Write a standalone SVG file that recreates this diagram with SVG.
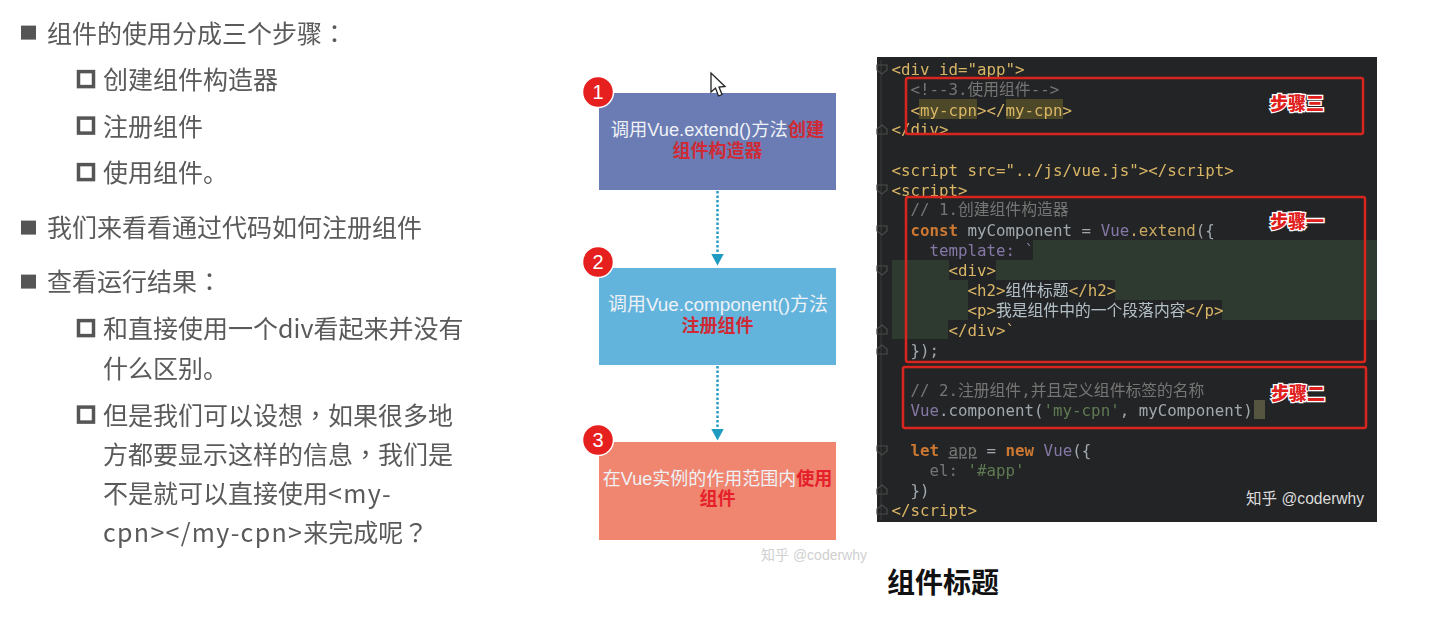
<svg xmlns="http://www.w3.org/2000/svg" width="1439" height="618" viewBox="0 0 1439 618">
<style>
.cn{font-family:"Noto Sans CJK SC","Liberation Sans",sans-serif;font-size:25px;fill:#5a5a5a}
.pn{font-family:"Noto Sans CJK TC",sans-serif}
.ls{letter-spacing:1.3px}
.sq{fill:#555}
.hs{fill:none;stroke:#555;stroke-width:3.5}
.fl{font-family:"Liberation Sans","Noto Sans CJK SC",sans-serif;font-size:18px;fill:#eef1f6;text-anchor:middle}
.r{fill:#cf2a35;font-weight:bold}
.num{font-family:"Liberation Sans",sans-serif;font-size:20px;fill:#fff;text-anchor:middle}
.cir{fill:#e5201f;stroke:#fff;stroke-width:1.5}
.link{stroke:#2a9cc4;stroke-width:2.5;stroke-dasharray:2.5 2;fill:none}
.c{font-family:"DejaVu Sans Mono","Noto Sans CJK SC",monospace;font-size:15.8px;fill:#a0a8ae}
.t{fill:#d9b566}.g{fill:#757575}.k{fill:#cc7832;font-weight:bold}.p{fill:#8577a6}.s{fill:#5f7a52}.w{fill:#b4c0c8}.l{fill:#c9a860}
.box{fill:none;stroke:#d8261f;stroke-width:2.5}
.st{font-family:"Noto Sans CJK SC",sans-serif;font-size:18px;font-weight:900;fill:#e0201c;stroke:#fff;stroke-width:2.6px;paint-order:stroke;text-anchor:middle}
.fold{fill:none;stroke:#4a4a4a;stroke-width:1.2}
.wm{font-family:"Liberation Sans","Noto Sans CJK SC",sans-serif}
</style>
<defs>
<marker id="tri" markerWidth="14" markerHeight="14" refX="6.5" refY="6.5" orient="auto" markerUnits="userSpaceOnUse"><path d="M0 0L12 6.500L0 13Z" fill="#1f9bc2"/></marker>
<filter id="soft" x="0" y="0" width="100%" height="100%" filterUnits="objectBoundingBox"><feGaussianBlur stdDeviation="0.45"/></filter>
</defs>
<rect width="1439" height="618" fill="#fff"/>

<g id="left-text" filter="url(#soft)" transform="translate(0 0.6)">
<rect class="sq" x="21" y="25" width="15" height="14"/>
<text class="cn" x="47" y="42">组件的使用分成三个步骤<tspan class="pn">：</tspan></text>
<rect class="hs" x="78.5" y="71" width="15" height="15"/>
<text class="cn" x="103" y="88">创建组件构造器</text>
<rect class="hs" x="78.5" y="117.500" width="15" height="15"/>
<text class="cn" x="103" y="135">注册组件</text>
<rect class="hs" x="78.5" y="164" width="15" height="15"/>
<text class="cn" x="103" y="181">使用组件。</text>
<rect class="sq" x="21" y="220" width="15" height="14"/>
<text class="cn" x="47" y="236">我们来看看通过代码如何注册组件</text>
<rect class="sq" x="21" y="274" width="15" height="14"/>
<text class="cn" x="47" y="290">查看运行结果<tspan class="pn">：</tspan></text>
<rect class="hs" x="78.5" y="320" width="15" height="15"/>
<text class="cn" x="103" y="337">和直接使用一个div看起来并没有</text>
<text class="cn" x="103" y="377">什么区别。</text>
<rect class="hs" x="78.5" y="406.500" width="15" height="15"/>
<text class="cn" x="103" y="424">但是我们可以设想<tspan class="pn">，</tspan>如果很多地</text>
<text class="cn" x="103" y="463">方都要显示这样的信息<tspan class="pn">，</tspan>我们是</text>
<text class="cn" x="103" y="502">不是就可以直接使用<tspan class="ls">&lt;my-</tspan></text>
<text class="cn" x="103" y="541"><tspan class="ls">cpn&gt;&lt;/my-cpn&gt;</tspan>来完成呢<tspan class="pn">？</tspan></text>
</g>

<g id="connectors">
<path class="link" d="M717.500 191V260" marker-end="url(#tri)"/>
<path class="link" d="M717.500 366V435" marker-end="url(#tri)"/>
</g>

<g id="node-1">
<rect x="599" y="93" width="237" height="97" fill="#6b7cb4"/>
<text class="fl" style="font-size:18.300px" x="717.500" y="136">调用Vue.extend()方法<tspan class="r">创建</tspan></text>
<text class="fl r" x="717.500" y="157">组件构造器</text>
<circle class="cir" cx="598" cy="92" r="15.500"/>
<text class="num" x="598" y="99">1</text>
</g>
<g id="node-2">
<rect x="599" y="268" width="237" height="97" fill="#62b4dc"/>
<text class="fl" style="font-size:18.900px" x="718" y="311">调用Vue.component()方法</text>
<text class="fl r" x="717.500" y="332">注册组件</text>
<circle class="cir" cx="598" cy="262" r="15.500"/>
<text class="num" x="598" y="269">2</text>
</g>
<g id="node-3">
<rect x="599" y="442" width="237" height="98" fill="#f08570"/>
<text class="fl" x="717.500" y="485">在Vue实例的作用范围内<tspan class="r" style="fill:#e5202a">使用</tspan></text>
<text class="fl r" style="fill:#e5202a" x="717.500" y="505">组件</text>
<circle class="cir" cx="598" cy="440" r="15.500"/>
<text class="num" x="598" y="447">3</text>
</g>

<path id="cursor" d="M711 73V92L715.500 88L718.500 96L722 94.500L719 87L725 86.500Z" fill="#fff" stroke="#222" stroke-width="1.300"/>
<text class="wm" x="761" y="560" font-size="14" fill="#cfcfcf">知乎 @coderwhy</text>

<g id="code-panel">
<rect x="877" y="57" width="500" height="465" fill="#232425"/>
<path d="M881 60V520" stroke="#3a3a3a" stroke-width="1"/>
<g fill="#2e3a30">
<rect x="1033" y="240" width="344" height="20"/>
<rect x="892" y="260" width="485" height="60"/>
<rect x="892" y="320" width="56" height="19"/>
</g>
<g fill="#232425">
<rect x="930" y="240" width="103" height="20"/>
<rect x="949" y="260" width="47" height="20"/>
<rect x="968" y="280" width="147" height="20"/>
<rect x="968" y="300" width="254" height="20"/>
</g>
<rect x="919" y="99" width="58" height="20" fill="#4c4828"/>
<rect x="1006" y="99" width="57" height="20" fill="#4c4828"/>
<rect x="1254" y="400" width="11" height="19" fill="#56553f"/>
<g class="fold">
<path d="M877 65H887V70L882 74L877 70Z"/>
<path d="M877 134H887V129L882 125L877 129Z"/>
<path d="M877 185H887V190L882 194L877 190Z"/>
<path d="M877 226H887V231L882 235L877 231Z"/>
<path d="M877 266H887V271L882 275L877 271Z"/>
<path d="M877 334H887V329L882 325L877 329Z"/>
<path d="M877 354H887V349L882 345L877 349Z"/>
<path d="M877 446H887V451L882 455L877 451Z"/>
<path d="M877 494H887V489L882 485L877 489Z"/>
<path d="M877 514H887V509L882 505L877 509Z"/>
</g>
<g filter="url(#soft)" transform="translate(-0.6 0.9)">
<text class="c" x="892" y="74"><tspan class="t">&lt;div</tspan> <tspan class="t">id="app"&gt;</tspan></text>
<text class="c g" x="911" y="94">&lt;!--3.使用组件--&gt;</text>
<text class="c t" x="911" y="115">&lt;my-cpn&gt;&lt;/my-cpn&gt;</text>
<text class="c t" x="892" y="134">&lt;/div&gt;</text>
<text class="c t" x="892" y="175">&lt;script src="../js/vue.js"&gt;&lt;/script&gt;</text>
<text class="c t" x="892" y="195">&lt;script&gt;</text>
<text class="c g" x="911" y="214">// 1.创建组件构造器</text>
<text class="c" x="911" y="235"><tspan class="k">const</tspan> myComponent = <tspan class="p">Vue</tspan><tspan class="l">.extend</tspan>({</text>
<text class="c p" x="930" y="255">template: `</text>
<text class="c t" x="949" y="275">&lt;div&gt;</text>
<text class="c t" x="968" y="295">&lt;h2&gt;<tspan class="w">组件标题</tspan>&lt;/h2&gt;</text>
<text class="c t" x="968" y="315">&lt;p&gt;<tspan class="w">我是组件中的一个段落内容</tspan>&lt;/p&gt;</text>
<text class="c t" x="949" y="335">&lt;/div&gt;`</text>
<text class="c" x="911" y="355">});</text>
<text class="c g" x="911" y="395">// 2.注册组件,并且定义组件标签的名称</text>
<text class="c" x="911" y="415"><tspan class="p">Vue</tspan>.component(<tspan class="s">'my-cpn'</tspan>, myComponent)</text>
<text class="c" x="911" y="455"><tspan class="k">let</tspan> <tspan class="g" text-decoration="underline">app</tspan> = <tspan class="k">new</tspan> <tspan class="p">Vue</tspan>({</text>
<text class="c" x="930" y="475"><tspan class="g">el:</tspan> <tspan class="s">'#app'</tspan></text>
<text class="c" x="911" y="495">})</text>
<text class="c t" x="892" y="515">&lt;/script&gt;</text>
</g>
<rect class="box" x="906" y="78" width="457" height="56" rx="2"/>
<rect class="box" x="906" y="197" width="459" height="165" rx="2"/>
<rect class="box" x="903" y="367" width="463" height="61" rx="2"/>
<text class="st" x="1297" y="110">步骤三</text>
<text class="st" x="1297" y="228">步骤一</text>
<text class="st" x="1298" y="400">步骤二</text>
<text class="wm" x="1246" y="504" font-size="15.600" fill="#dcdcdc">知乎 @coderwhy</text>
</g>

<text id="title" x="887" y="593" font-family="'Noto Sans CJK SC',sans-serif" font-size="28" font-weight="700" fill="#111">组件标题</text>
</svg>
